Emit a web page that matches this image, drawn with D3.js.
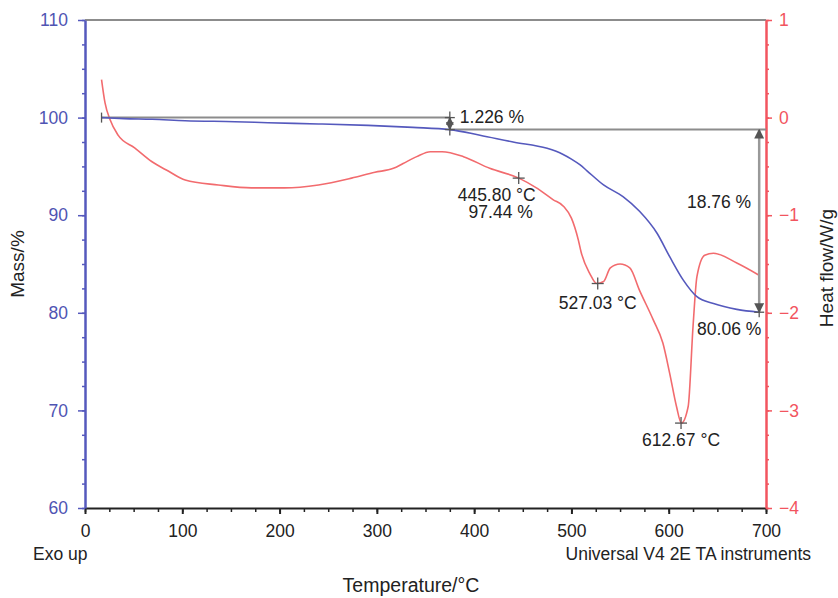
<!DOCTYPE html>
<html lang="en">
<head>
<meta charset="UTF-8">
<title>TGA / DSC</title>
<script src="https://cdn.jsdelivr.net/npm/d3@7"></script>
<style>
  body { margin: 0; background: #fff; }
  text { font-family: Arial, "Liberation Sans", sans-serif; }
</style>
</head>
<body>
<div id="chart"></div>
<script>
// ---- data ----
var massTemp = [17, 40, 69, 103, 154, 188, 240, 291, 337, 375, 406, 440, 475, 491, 500, 509, 516, 533, 553, 570, 588, 601, 615, 629, 646, 670, 693];
var massVal  = [100, 99.9, 99.83, 99.68, 99.58, 99.48, 99.35, 99.2, 99.0, 98.77, 98.2, 97.5, 96.85, 96.25, 95.75, 95.15, 94.55, 93.1, 91.9, 90.4, 88.15, 85.75, 83.35, 81.65, 80.95, 80.35, 80.06];

var hfTemp = [17, 20.6, 25.7, 34, 51, 68.5, 86, 103, 137, 171, 205, 240, 274, 298, 317, 327, 341, 355, 367, 389, 416, 446, 464, 481, 492, 500, 507, 510, 519, 526, 533, 540, 550, 560, 570, 584, 594, 601, 608, 613, 620, 625, 629, 637, 646, 670, 692];
var hfVal  = [0.39, 0.15, -0.02, -0.18, -0.31, -0.45, -0.55, -0.64, -0.69, -0.72, -0.72, -0.69, -0.62, -0.56, -0.52, -0.47, -0.40, -0.35, -0.35, -0.40, -0.52, -0.62, -0.72, -0.84, -0.91, -1.03, -1.25, -1.38, -1.60, -1.70, -1.68, -1.54, -1.50, -1.54, -1.77, -2.07, -2.31, -2.62, -2.96, -3.13, -2.96, -2.14, -1.63, -1.41, -1.39, -1.49, -1.61];

var xTicks = [0, 100, 200, 300, 400, 500, 600, 700];
var massTicks = [60, 70, 80, 90, 100, 110];
var hfTicks = [-4, -3, -2, -1, 0, 1];

// peak markers on the heat flow curve
var peakTemp = [445.80, 527.03, 612.67];
var peakHf   = [-0.62, -1.70, -3.13];

// step analysis
var stepStart = 17, stepTemp = 375, endTemp = 693;
var massStart = 100, massStep = 98.774, massEnd = 80.06;

// ---- layout ----
var W = 838, H = 598;
var pL = 85, pR = 766, pT = 20, pB = 508;
var blue = "#5559bd", blueText = "#4f54b3", red = "#f26b6e", redAxis = "#f2555f", grey = "#8c8c8c", ink = "#222";
var fs = "17.5px";

var svg = d3.select("#chart").append("svg")
    .attr("width", W).attr("height", H);

var x = d3.scaleLinear().domain([0, 700]).range([pL, pR]);
var yM = d3.scaleLinear().domain([60, 110]).range([pB, pT]);
var yH = d3.scaleLinear().domain([-4, 1]).range([pB, pT]);

// top frame line
svg.append("line")
    .attr("x1", pL).attr("x2", pR).attr("y1", pT).attr("y2", pT)
    .attr("stroke", grey).attr("stroke-width", 2);

// bottom axis
var xMinor = svg.append("g").attr("transform", "translate(0," + pB + ")")
    .call(d3.axisBottom(x).tickValues(d3.range(0, 701, 25)).tickSize(4).tickFormat(""));
xMinor.selectAll("line").attr("stroke", ink).attr("stroke-width", 1.5);
xMinor.select(".domain").remove();

var xAxis = svg.append("g").attr("transform", "translate(0," + pB + ")")
    .call(d3.axisBottom(x).tickValues(xTicks).tickSize(6).tickSizeOuter(0));
xAxis.select(".domain").attr("stroke", ink).attr("stroke-width", 2);
xAxis.selectAll("line").attr("stroke", ink).attr("stroke-width", 2);
xAxis.selectAll("text").attr("y", 29).attr("dy", null)
    .attr("fill", ink).style("font-size", fs);

// left axis (mass)
var mMinor = svg.append("g").attr("transform", "translate(" + pL + ",0)")
    .call(d3.axisLeft(yM).tickValues(d3.range(60, 110.1, 2.5)).tickSize(3).tickFormat(""));
mMinor.selectAll("line").attr("stroke", blue).attr("stroke-width", 1.5);
mMinor.select(".domain").remove();

var mAxis = svg.append("g").attr("transform", "translate(" + pL + ",0)")
    .call(d3.axisLeft(yM).tickValues(massTicks).tickSize(7).tickPadding(10).tickSizeOuter(0));
mAxis.select(".domain").attr("stroke", blue).attr("stroke-width", 2.5);
mAxis.selectAll("line").attr("stroke", blue).attr("stroke-width", 1.5);
mAxis.selectAll("text").attr("fill", blueText).style("font-size", fs);

// right axis (heat flow)
var hMinor = svg.append("g").attr("transform", "translate(" + pR + ",0)")
    .call(d3.axisRight(yH).tickValues(d3.range(-4, 1.01, 0.25)).tickSize(3).tickFormat(""));
hMinor.selectAll("line").attr("stroke", redAxis).attr("stroke-width", 1.5);
hMinor.select(".domain").remove();

var hAxis = svg.append("g").attr("transform", "translate(" + pR + ",0)")
    .call(d3.axisRight(yH).tickValues(hfTicks).tickFormat(d3.format("d"))
        .tickSize(6).tickPadding(7).tickSizeOuter(0));
hAxis.select(".domain").attr("stroke", redAxis).attr("stroke-width", 2.5);
hAxis.selectAll("line").attr("stroke", redAxis).attr("stroke-width", 1.5);
hAxis.selectAll("text").attr("fill", redAxis).style("font-size", fs);

// axis titles and notes
svg.append("text")
    .attr("transform", "translate(24," + ((pT + pB) / 2) + ") rotate(-90)")
    .attr("text-anchor", "middle").attr("fill", ink).style("font-size", "19px")
    .text("Mass/%");
svg.append("text")
    .attr("transform", "translate(833," + ((pT + pB) / 2 + 4) + ") rotate(-90)")
    .attr("text-anchor", "middle").attr("fill", ink).style("font-size", "19px")
    .text("Heat flow/W/g");
svg.append("text")
    .attr("x", 411).attr("y", 592).attr("text-anchor", "middle")
    .attr("fill", ink).style("font-size", "19.5px")
    .text("Temperature/°C");
svg.append("text")
    .attr("x", 33).attr("y", 560).attr("fill", ink).style("font-size", fs)
    .text("Exo up");
svg.append("text")
    .attr("x", 811).attr("y", 560).attr("text-anchor", "end").attr("fill", ink).style("font-size", fs)
    .text("Universal V4 2E TA instruments");

// curves
var massData = massTemp.map(function (t, i) { return [t, massVal[i]]; });
var hfData = hfTemp.map(function (t, i) { return [t, hfVal[i]]; });

svg.append("path").datum(hfData)
    .attr("fill", "none").attr("stroke", red).attr("stroke-width", 1.6)
    .attr("d", d3.line().curve(d3.curveMonotoneX)
        .x(function (d) { return x(d[0]); })
        .y(function (d) { return yH(d[1]); }));

// step annotation lines
svg.append("line")
    .attr("x1", x(stepStart)).attr("x2", x(stepTemp))
    .attr("y1", yM(massStart)).attr("y2", yM(massStart))
    .attr("stroke", grey).attr("stroke-width", 2);
svg.append("line")
    .attr("x1", x(stepTemp)).attr("x2", pR)
    .attr("y1", yM(massStep)).attr("y2", yM(massStep))
    .attr("stroke", grey).attr("stroke-width", 2);

svg.append("path").datum(massData)
    .attr("fill", "none").attr("stroke", blue).attr("stroke-width", 1.6)
    .attr("d", d3.line().curve(d3.curveMonotoneX)
        .x(function (d) { return x(d[0]); })
        .y(function (d) { return yM(d[1]); }));

// arrowheads
var defs = svg.append("defs");
defs.append("marker").attr("id", "arr").attr("viewBox", "0 0 10 10")
    .attr("refX", 9).attr("refY", 5).attr("markerWidth", 4).attr("markerHeight", 4)
    .attr("orient", "auto-start-reverse")
  .append("path").attr("d", "M0,0L10,5L0,10z").attr("fill", "#555");

svg.append("line")
    .attr("x1", x(stepTemp)).attr("x2", x(stepTemp))
    .attr("y1", yM(massStart)).attr("y2", yM(massStep))
    .attr("stroke", "#333").attr("stroke-width", 2)
    .attr("marker-start", "url(#arr)").attr("marker-end", "url(#arr)");
svg.append("line")
    .attr("x1", x(endTemp)).attr("x2", x(endTemp))
    .attr("y1", yM(massStep)).attr("y2", yM(massEnd))
    .attr("stroke", "#999").attr("stroke-width", 2.5)
    .attr("marker-start", "url(#arr)").attr("marker-end", "url(#arr)");

// cross markers
function cross(cx, cy, w, h) {
  var g = svg.append("g").attr("stroke", "#555").attr("stroke-width", 1.3);
  g.append("line").attr("x1", cx - w).attr("x2", cx + w).attr("y1", cy).attr("y2", cy);
  g.append("line").attr("x1", cx).attr("x2", cx).attr("y1", cy - h).attr("y2", cy + h);
}
svg.append("line")
    .attr("x1", x(stepStart)).attr("x2", x(stepStart))
    .attr("y1", yM(massStart) - 5).attr("y2", yM(massStart) + 5)
    .attr("stroke", "#555").attr("stroke-width", 1.3);
cross(x(stepTemp), yM(massStart), 5, 6);
cross(x(stepTemp), yM(massStep), 5, 6);
cross(x(endTemp), yM(massEnd), 5, 5);
peakTemp.forEach(function (t, i) { cross(x(t), yH(peakHf[i]), 6, 6); });

// labels
function label(tx, ty, s, anchor) {
  svg.append("text").attr("x", tx).attr("y", ty)
      .attr("text-anchor", anchor || "middle")
      .attr("fill", ink).style("font-size", fs).text(s);
}
label(x(stepTemp) + 10, yM(massStart) + 5, (massStart - massStep).toFixed(3) + " %", "start");
label(x(endTemp) - 8, 208, "18.76 %", "end");
label(x(endTemp) - 30, yM(massEnd) + 23, massEnd.toFixed(2) + " %");
label(x(peakTemp[0]) - 22, yH(peakHf[0]) + 23, peakTemp[0].toFixed(2) + " °C");
label(x(peakTemp[0]) - 18, yH(peakHf[0]) + 40, "97.44 %");
label(x(peakTemp[1]), yH(peakHf[1]) + 25, peakTemp[1].toFixed(2) + " °C");
label(x(peakTemp[2]), yH(peakHf[2]) + 23, peakTemp[2].toFixed(2) + " °C");
</script>
</body>
</html>
